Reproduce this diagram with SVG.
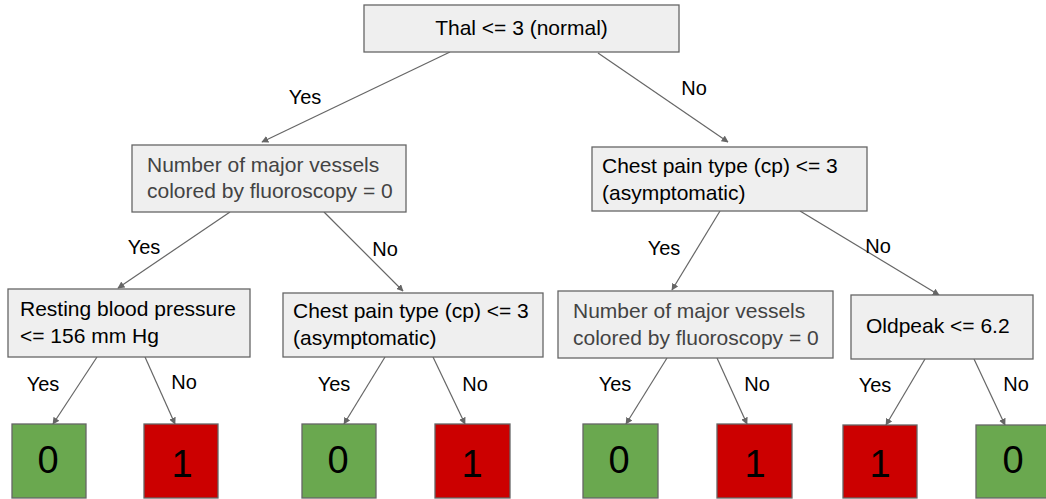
<svg xmlns="http://www.w3.org/2000/svg" width="1046" height="499" viewBox="0 0 1046 499">
<style>
.box{fill:#efefef;stroke:#666;stroke-width:1.3}
.t{font-family:"Liberation Sans",Arial,sans-serif;font-size:21px;fill:#000}
.g{fill:#434343}
.lbl{font-family:"Liberation Sans",Arial,sans-serif;font-size:20px;fill:#000;text-anchor:middle}
.leaf{stroke:#666;stroke-width:1.3}
.green{fill:#6aa84f}
.red{fill:#cc0000}
.d{font-family:"Liberation Sans",Arial,sans-serif;font-size:38px;fill:#000;text-anchor:middle}
.e{stroke:#666;stroke-width:1.2;fill:none;marker-end:url(#ah)}
</style>
<defs>
<marker id="ah" viewBox="0 0 10 10" refX="9" refY="5" markerWidth="7" markerHeight="7" markerUnits="userSpaceOnUse" orient="auto">
<path d="M0,0 L10,5 L0,10 z" fill="#666"/>
</marker>
</defs>
<rect width="1046" height="499" fill="#fff"/>
<g id="connectors">
<line class="e" x1="450" y1="52" x2="262" y2="142"/>
<line class="e" x1="598" y1="53" x2="728" y2="142"/>
<line class="e" x1="230" y1="212" x2="118" y2="288"/>
<line class="e" x1="324" y1="212" x2="403" y2="291"/>
<line class="e" x1="720" y1="211" x2="672" y2="290"/>
<line class="e" x1="800" y1="211" x2="939" y2="295"/>
<line class="e" x1="97" y1="357" x2="53" y2="424"/>
<line class="e" x1="145" y1="357" x2="175" y2="424"/>
<line class="e" x1="385" y1="357" x2="344" y2="424"/>
<line class="e" x1="433" y1="357" x2="465" y2="424"/>
<line class="e" x1="667" y1="358" x2="626" y2="424"/>
<line class="e" x1="717" y1="358" x2="747" y2="424"/>
<line class="e" x1="925" y1="359" x2="886" y2="425"/>
<line class="e" x1="974" y1="359" x2="1005" y2="425"/>
</g>
<g id="labels">
<text class="lbl" x="305" y="104">Yes</text>
<text class="lbl" x="694" y="95">No</text>
<text class="lbl" x="144" y="254">Yes</text>
<text class="lbl" x="385" y="256">No</text>
<text class="lbl" x="664" y="255">Yes</text>
<text class="lbl" x="878" y="253">No</text>
<text class="lbl" x="43" y="391">Yes</text>
<text class="lbl" x="184" y="389">No</text>
<text class="lbl" x="334" y="391">Yes</text>
<text class="lbl" x="475" y="391">No</text>
<text class="lbl" x="615" y="391">Yes</text>
<text class="lbl" x="757" y="391">No</text>
<text class="lbl" x="875" y="392">Yes</text>
<text class="lbl" x="1016" y="391">No</text>
</g>
<g id="root">
<rect class="box" x="364" y="5" width="315" height="47"/>
<text class="t" x="521.5" y="35" text-anchor="middle">Thal &lt;= 3 (normal)</text>
</g>
<g id="vessels-left">
<rect class="box" x="132" y="145" width="274" height="67"/>
<text class="t g" x="147" y="172">Number of major vessels</text>
<text class="t g" x="147" y="198">colored by fluoroscopy = 0</text>
</g>
<g id="chest-right">
<rect class="box" x="592" y="147" width="275" height="64"/>
<text class="t" x="602" y="173">Chest pain type (cp) &lt;= 3</text>
<text class="t" x="602" y="200">(asymptomatic)</text>
</g>
<g id="resting">
<rect class="box" x="8" y="289" width="242" height="68"/>
<text class="t" x="20" y="316">Resting blood pressure</text>
<text class="t" x="20" y="343">&lt;= 156 mm Hg</text>
</g>
<g id="chest-left">
<rect class="box" x="283" y="293" width="260" height="64"/>
<text class="t" x="293" y="318">Chest pain type (cp) &lt;= 3</text>
<text class="t" x="293" y="345">(asymptomatic)</text>
</g>
<g id="vessels-right">
<rect class="box" x="558" y="291" width="275" height="67"/>
<text class="t g" x="573" y="318">Number of major vessels</text>
<text class="t g" x="573" y="345">colored by fluoroscopy = 0</text>
</g>
<g id="oldpeak">
<rect class="box" x="851" y="295" width="182" height="64"/>
<text class="t" x="866" y="333">Oldpeak &lt;= 6.2</text>
</g>
<g id="leaf1"><rect class="leaf green" x="12" y="424" width="74" height="74"/><text class="d" x="48" y="473">0</text></g>
<g id="leaf2"><rect class="leaf red" x="144" y="424" width="74" height="74"/><text class="d" x="182" y="477">1</text></g>
<g id="leaf3"><rect class="leaf green" x="302" y="424" width="74" height="74"/><text class="d" x="338" y="473">0</text></g>
<g id="leaf4"><rect class="leaf red" x="435" y="424" width="75" height="74"/><text class="d" x="472" y="477">1</text></g>
<g id="leaf5"><rect class="leaf green" x="583" y="424" width="75" height="74"/><text class="d" x="619" y="473">0</text></g>
<g id="leaf6"><rect class="leaf red" x="717" y="424" width="75" height="74"/><text class="d" x="755" y="477">1</text></g>
<g id="leaf7"><rect class="leaf red" x="843" y="425" width="74" height="73"/><text class="d" x="880" y="477">1</text></g>
<g id="leaf8"><rect class="leaf green" x="976" y="425" width="74" height="73"/><text class="d" x="1013" y="473">0</text></g>
</svg>
